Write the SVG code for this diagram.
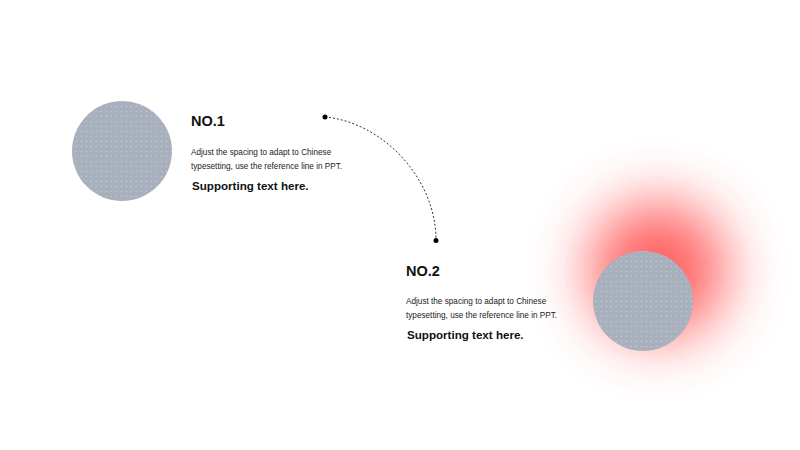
<svg xmlns="http://www.w3.org/2000/svg" width="800" height="450" viewBox="0 0 800 450">
<defs>
<pattern id="dots" width="5" height="5" patternUnits="userSpaceOnUse">
<rect width="5" height="5" fill="#a8b0bd"/>
<circle cx="1.25" cy="1.25" r="0.6" fill="#d6dce6"/>
</pattern>
<filter id="glow" x="-100%" y="-100%" width="300%" height="300%">
<feGaussianBlur stdDeviation="30"/>
</filter>
<style>
.t{font-family:"Liberation Sans",Arial,sans-serif;fill:#111}
.h{font-size:14.5px;font-weight:bold}
.b{font-size:8.2px;fill:#222}
.s{font-size:11.6px;font-weight:bold}
.conn{fill:none;stroke:#333;stroke-width:1;stroke-dasharray:2 2}
</style>
</defs>
<rect width="800" height="450" fill="#fff"/>
<g id="node1">
<circle cx="122" cy="151" r="50" fill="url(#dots)"/>
<text class="t h" x="191" y="125.5">NO.1</text>
<text class="t b" x="191" y="154.5">Adjust the spacing to adapt to Chinese</text>
<text class="t b" x="191" y="169">typesetting, use the reference line in PPT.</text>
<text class="t s" x="192" y="189.5">Supporting text here.</text>
</g>
<g id="node2">
<circle cx="658" cy="270" r="68" fill="#ff4f4f" opacity="0.9" filter="url(#glow)"/>
<circle cx="643" cy="301" r="50" fill="url(#dots)"/>
<text class="t h" x="406" y="275.5">NO.2</text>
<text class="t b" x="406" y="303.5">Adjust the spacing to adapt to Chinese</text>
<text class="t b" x="406" y="318">typesetting, use the reference line in PPT.</text>
<text class="t s" x="407" y="339">Supporting text here.</text>
</g>
<g id="connectors">
<path class="conn" d="M325,117 C382,122 436,178 436,240"/>
<circle cx="325" cy="117" r="2.5" fill="#000"/>
<circle cx="436" cy="240.5" r="2.5" fill="#000"/>
</g>
</svg>
